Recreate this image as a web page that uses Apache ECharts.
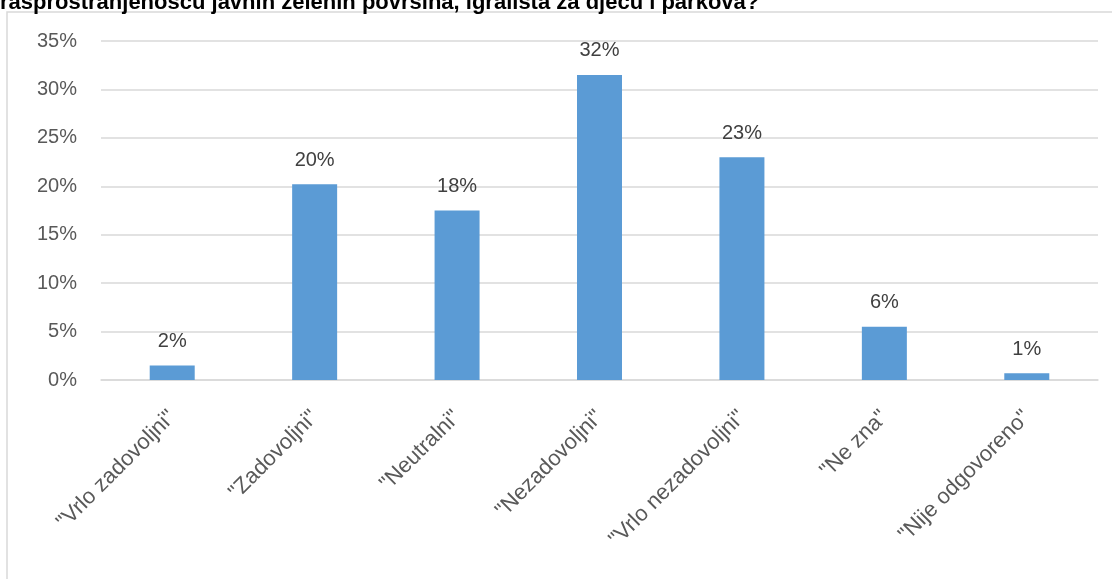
<!DOCTYPE html>
<html>
<head>
<meta charset="utf-8">
<script src="https://cdn.jsdelivr.net/npm/echarts@6/dist/echarts.min.js"></script>
<style>
html,body{margin:0;padding:0;background:#fff;}
#chart{width:1112px;height:579px;}
</style>
</head>
<body>
<div id="chart"></div>
<script>
const titleText = 'rasprostranjenošću javnih zelenih površina, igrališta za djecu i parkova?';
const categories = ['"Vrlo zadovoljni"', '"Zadovoljni"', '"Neutralni"', '"Nezadovoljni"', '"Vrlo nezadovoljni"', '"Ne zna"', '"Nije odgovoreno"'];
const values = [1.5, 20.2, 17.5, 31.5, 23.0, 5.5, 0.7];
const yTicks = [0, 5, 10, 15, 20, 25, 30, 35];

const FONT = '"Liberation Sans", Arial, sans-serif';
const chart = echarts.init(document.getElementById('chart'), null, {renderer: 'canvas'});
chart.setOption({
  animation: false,
  backgroundColor: '#ffffff',
  graphic: [
    {
      type: 'rect', silent: true, z: -1,
      shape: {x: 7, y: 12, width: 1300, height: 800},
      style: {fill: 'none', stroke: '#d9d9d9', lineWidth: 1.5}
    },
    {
      type: 'text', left: 0, top: -8, silent: true,
      style: {text: titleText, font: 'bold 22px ' + FONT, fill: '#000000'}
    }
  ],
  grid: {left: 101, right: 14, top: 41, bottom: 199, containLabel: false},
  xAxis: {
    type: 'category',
    data: categories,
    axisLine: {show: true, lineStyle: {color: '#d9d9d9', width: 1.5}},
    axisTick: {show: false},
    axisLabel: {
      rotate: 45, margin: 34, interval: 0,
      color: '#595959', fontSize: 22, fontFamily: FONT
    }
  },
  yAxis: {
    type: 'value',
    min: yTicks[0], max: yTicks[yTicks.length - 1], interval: 5,
    axisLine: {show: false},
    axisTick: {show: false},
    splitLine: {lineStyle: {color: '#d9d9d9', width: 1.5}},
    axisLabel: {
      margin: 24, color: '#595959', fontSize: 20, fontFamily: FONT,
      formatter: v => v + '%'
    }
  },
  series: [{
    type: 'bar',
    data: values,
    barWidth: 45,
    itemStyle: {color: '#5b9bd5'},
    label: {
      show: true, position: 'top', distance: 14,
      color: '#404040', fontSize: 20, fontFamily: FONT,
      formatter: p => Math.round(p.value) + '%'
    }
  }]
});
</script>
</body>
</html>
